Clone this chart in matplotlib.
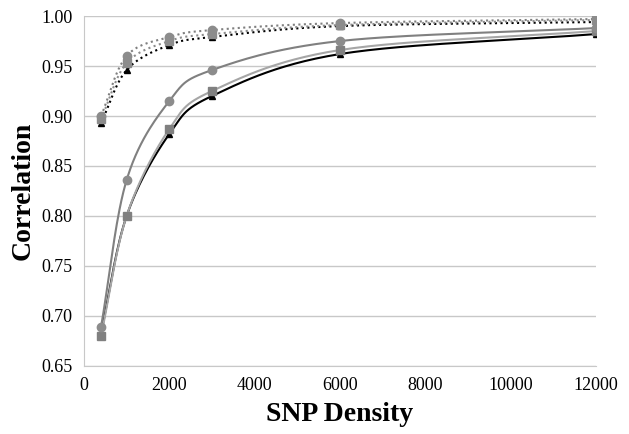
import numpy as np
import matplotlib
matplotlib.use("Agg")
import matplotlib.pyplot as plt

plt.rcParams['font.family'] = ['Liberation Serif', 'DejaVu Serif']

snp_density = [400, 1000, 2000, 3000, 6000, 12000]

# dotted series
dot_circle = [0.900, 0.960, 0.979, 0.986, 0.993, 0.997]
dot_square = [0.897, 0.953, 0.975, 0.982, 0.991, 0.996]
dot_triangle = [0.893, 0.946, 0.971, 0.979, 0.990, 0.994]

# solid series
sol_circle = [0.689, 0.836, 0.915, 0.946, 0.975, 0.988]
sol_square = [0.680, 0.800, 0.887, 0.925, 0.966, 0.985]
sol_triangle = [0.683, 0.800, 0.882, 0.920, 0.962, 0.982]


def smooth(x, y, n=30):
    # Excel-like smoothed line (bezier through the points), done in pixel-ish space
    x = np.asarray(x, float) / 12000.0 * 512
    y = (np.asarray(y, float) - 0.65) / 0.35 * 350
    px = np.concatenate([[2 * x[0] - x[1]], x, [2 * x[-1] - x[-2]]])
    py = np.concatenate([[2 * y[0] - y[1]], y, [2 * y[-1] - y[-2]]])
    xs, ys = [], []
    for i in range(1, len(px) - 2):
        t = np.linspace(0, 1, n, endpoint=False)
        p0, p1, p2, p3 = [np.array([px[j], py[j]]) for j in range(i - 1, i + 3)]
        c1 = p1 + (p2 - p0) / 6.0
        c2 = p2 - (p3 - p1) / 6.0
        b = ((1 - t) ** 3)[:, None] * p1 + (3 * (1 - t) ** 2 * t)[:, None] * c1 \
            + (3 * (1 - t) * t ** 2)[:, None] * c2 + (t ** 3)[:, None] * p2
        xs.extend(b[:, 0]); ys.extend(b[:, 1])
    xs.append(x[-1]); ys.append(y[-1])
    return np.array(xs) / 512 * 12000.0, np.array(ys) / 350 * 0.35 + 0.65


fig = plt.figure(figsize=(6.29, 4.34), dpi=100)
ax = fig.add_axes([0.1335, 0.157, 0.814, 0.806])

# drawn bottom to top: triangles, squares, circles
series = [
    (dot_triangle, ':', '#000000', '^', '#000000', 5),
    (sol_triangle, '-', '#000000', '^', '#000000', 5),
    (dot_square, ':', '#8c8c8c', 's', '#8c8c8c', 5.5),
    (sol_square, '-', '#a6a6a6', 's', '#808080', 5.5),
    (dot_circle, ':', '#7f7f7f', 'o', '#8c8c8c', 6),
    (sol_circle, '-', '#808080', 'o', '#8c8c8c', 6),
]
for k, (vals, ls, lc, mk, mc, ms) in enumerate(series):
    sx, sy = smooth(snp_density, vals)
    ax.plot(sx, sy, linestyle=ls, color=lc, linewidth=1.5, zorder=3)
    ax.plot(snp_density, vals, linestyle='none', marker=mk, markersize=ms,
            color=mc, zorder=4 + k)

ax.set_xlim(0, 12000)
ax.set_ylim(0.65, 1.00)
ax.set_xticks(np.arange(0, 12001, 2000))
ax.set_yticks(np.arange(0.65, 1.001, 0.05))
ax.yaxis.set_major_formatter(matplotlib.ticker.FormatStrFormatter('%.2f'))
ax.grid(axis='y', color='#c8c8c8', linewidth=1)
ax.set_axisbelow(True)
for s in ['top', 'right']:
    ax.spines[s].set_visible(False)
ax.spines['left'].set_color('#c8c8c8')
ax.spines['bottom'].set_color('#c8c8c8')
ax.tick_params(length=0, labelsize=13, pad=8)
ax.set_xlabel('SNP Density', fontsize=20, fontweight='bold', labelpad=6)
ax.set_ylabel('Correlation', fontsize=20, fontweight='bold', labelpad=4)

fig.savefig('out.png', dpi=100)
